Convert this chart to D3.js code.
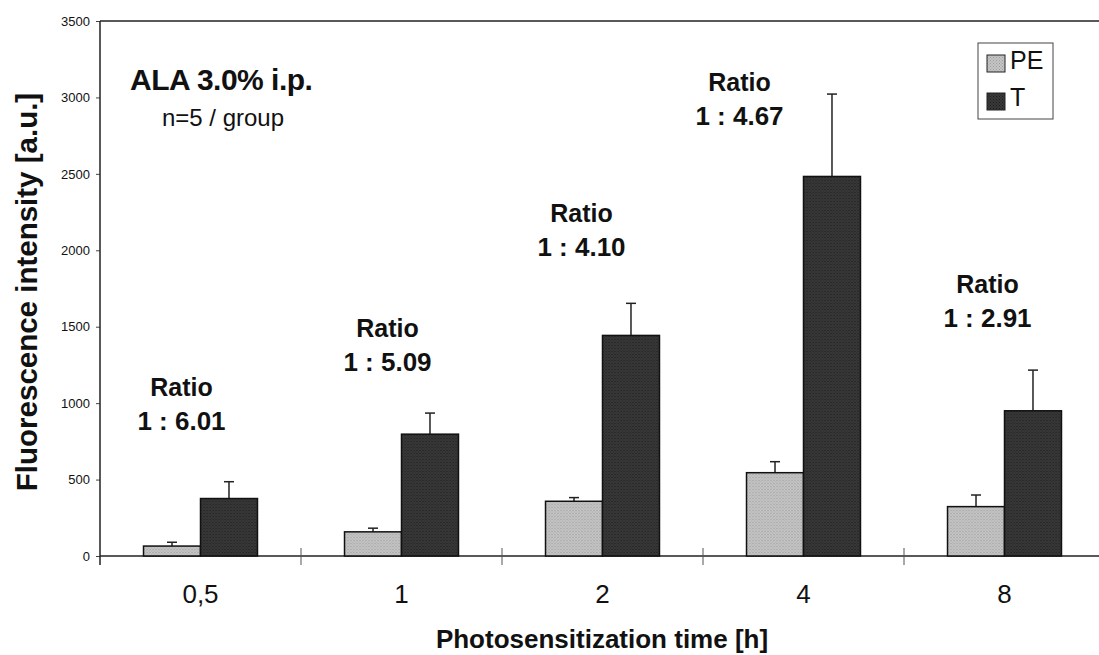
<!DOCTYPE html>
<html>
<head>
<meta charset="utf-8">
<script src="https://cdn.jsdelivr.net/npm/d3@7.9.0/dist/d3.min.js"></script>
<style>
  html, body { margin: 0; padding: 0; background: #fff; }
  svg { display: block; font-family: "Liberation Sans", Arial, sans-serif; }
</style>
</head>
<body>
<svg id="chart" width="1099" height="655"></svg>
<script>
// data
const times = ['0,5', '1', '2', '4', '8'];
const peMean = [65, 158, 358, 545, 323];
const peSd = [25, 24, 24, 72, 76];
const tMean = [376, 797, 1443, 2483, 950];
const tSd = [110, 138, 210, 539, 266];
const ratios = ['1 : 6.01', '1 : 5.09', '1 : 4.10', '1 : 4.67', '1 : 2.91'];
// where each ratio note sits (value units for y, px offset from group centre for x)
const ratioAt = [824, 1210, 1962, 2819, 1498];
const ratioDx = [-19, -14, -21, -64, -17];
const yTicks = [0, 500, 1000, 1500, 2000, 2500, 3000, 3500];

const svg = d3.select('#chart');
const plotLeft = 100, plotRight = 1105, plotTop = 21, plotBottom = 556;

const x = d3.scaleBand().domain(times).range([plotLeft, plotRight])
  .paddingInner(0.433).paddingOuter(0.2165);
const sub = d3.scaleBand().domain(['PE', 'T']).range([0, x.bandwidth()]);
const y = d3.scaleLinear().domain([0, 3500]).range([plotBottom, plotTop]);

// halftone-ish textures like the print
const defs = svg.append('defs');
[['PE', '#c6c6c6', '#9a9a9a'], ['T', '#3a3a3a', '#1a1a1a']].forEach(([k, bg, dot]) => {
  const p = defs.append('pattern').attr('id', 'pat' + k)
    .attr('width', 3).attr('height', 3).attr('patternUnits', 'userSpaceOnUse');
  p.append('rect').attr('width', 3).attr('height', 3).attr('fill', bg);
  p.append('rect').attr('width', 1).attr('height', 1).attr('fill', dot);
  p.append('rect').attr('x', 1.5).attr('y', 1.5).attr('width', 1).attr('height', 1).attr('fill', dot);
});

// top frame line
svg.append('line').attr('x1', plotLeft).attr('x2', plotRight).attr('y1', y(3500)).attr('y2', y(3500))
  .attr('stroke', '#222').attr('stroke-width', 1.5);

// y axis
const yAxis = svg.append('g').attr('transform', `translate(${plotLeft},0)`)
  .call(d3.axisLeft(y).tickValues(yTicks).tickFormat(d3.format('d')).tickSize(4).tickPadding(6));
yAxis.select('.domain').remove();
yAxis.selectAll('line').attr('stroke', '#444');
yAxis.selectAll('text').attr('font-size', 13).attr('fill', '#111')
  .attr('font-family', '"Liberation Sans", Arial, sans-serif');
svg.append('line').attr('x1', plotLeft).attr('x2', plotLeft).attr('y1', y(3500)).attr('y2', plotBottom + 9)
  .attr('stroke', '#222').attr('stroke-width', 1.5);

// x axis baseline + boundary ticks
svg.append('line').attr('x1', plotLeft).attr('x2', plotRight).attr('y1', plotBottom).attr('y2', plotBottom)
  .attr('stroke', '#222').attr('stroke-width', 1.5);
times.slice(1).forEach(t => {
  const bx = x(t) - x.step() * x.paddingInner() / 2;
  svg.append('line').attr('x1', bx).attr('x2', bx).attr('y1', plotBottom - 8).attr('y2', plotBottom + 9)
    .attr('stroke', '#555').attr('stroke-width', 1);
});
svg.append('g').selectAll('text').data(times).join('text')
  .attr('x', d => x(d) + x.bandwidth() / 2)
  .attr('y', 603)
  .attr('text-anchor', 'middle')
  .attr('font-size', 26)
  .attr('fill', '#111')
  .text(d => d);

// bars
const groups = svg.append('g').selectAll('g').data(times).join('g')
  .attr('transform', d => `translate(${x(d)},0)`);

function drawSeries(key, means, sds) {
  const cx = sub(key) + sub.bandwidth() / 2;
  groups.append('line')
    .attr('x1', cx).attr('x2', cx)
    .attr('y1', (d, i) => y(means[i]))
    .attr('y2', (d, i) => y(means[i] + sds[i]))
    .attr('stroke', '#222').attr('stroke-width', 1.5);
  groups.append('line')
    .attr('x1', cx - 5).attr('x2', cx + 5)
    .attr('y1', (d, i) => y(means[i] + sds[i]))
    .attr('y2', (d, i) => y(means[i] + sds[i]))
    .attr('stroke', '#222').attr('stroke-width', 1.5);
  groups.append('rect')
    .attr('x', sub(key))
    .attr('width', sub.bandwidth())
    .attr('y', (d, i) => y(means[i]))
    .attr('height', (d, i) => plotBottom - y(means[i]))
    .attr('fill', `url(#pat${key})`)
    .attr('stroke', '#111').attr('stroke-width', 1.5);
}
drawSeries('PE', peMean, peSd);
drawSeries('T', tMean, tSd);

// ratio notes
times.forEach((t, i) => {
  const cx = x(t) + x.bandwidth() / 2 + ratioDx[i];
  const by = y(ratioAt[i]);
  svg.append('text').attr('x', cx).attr('y', by - 34)
    .attr('text-anchor', 'middle').attr('font-size', 25).attr('font-weight', 'bold')
    .attr('fill', '#111').text('Ratio');
  svg.append('text').attr('x', cx).attr('y', by)
    .attr('text-anchor', 'middle').attr('font-size', 26).attr('font-weight', 'bold')
    .attr('fill', '#111').text(ratios[i]);
});

// header note
svg.append('text').attr('x', 130).attr('y', 90).attr('font-size', 30).attr('font-weight', 'bold')
  .attr('fill', '#111').attr('letter-spacing', -0.5).text('ALA 3.0% i.p.');
svg.append('text').attr('x', 223).attr('y', 126).attr('text-anchor', 'middle').attr('font-size', 24)
  .attr('fill', '#111').text('n=5 / group');

// legend
const lg = svg.append('g');
lg.append('rect').attr('x', 978).attr('y', 43).attr('width', 75).attr('height', 76)
  .attr('fill', '#fff').attr('stroke', '#444').attr('stroke-width', 1);
['PE', 'T'].forEach((k, i) => {
  lg.append('rect').attr('x', 987).attr('y', 55 + i * 38).attr('width', 18).attr('height', 17)
    .attr('fill', `url(#pat${k})`).attr('stroke', '#222').attr('stroke-width', 1);
  lg.append('text').attr('x', 1010).attr('y', 69 + i * 37).attr('font-size', 25)
    .attr('fill', '#111').text(k);
});

// axis titles
svg.append('text').attr('x', 602).attr('y', 648).attr('text-anchor', 'middle')
  .attr('font-size', 26).attr('font-weight', 'bold').attr('fill', '#111')
  .text('Photosensitization time [h]');
svg.append('text').attr('transform', 'translate(37,292) rotate(-90)')
  .attr('text-anchor', 'middle').attr('font-size', 29.5).attr('font-weight', 'bold').attr('fill', '#111')
  .text('Fluorescence intensity [a.u.]');
</script>
</body>
</html>
